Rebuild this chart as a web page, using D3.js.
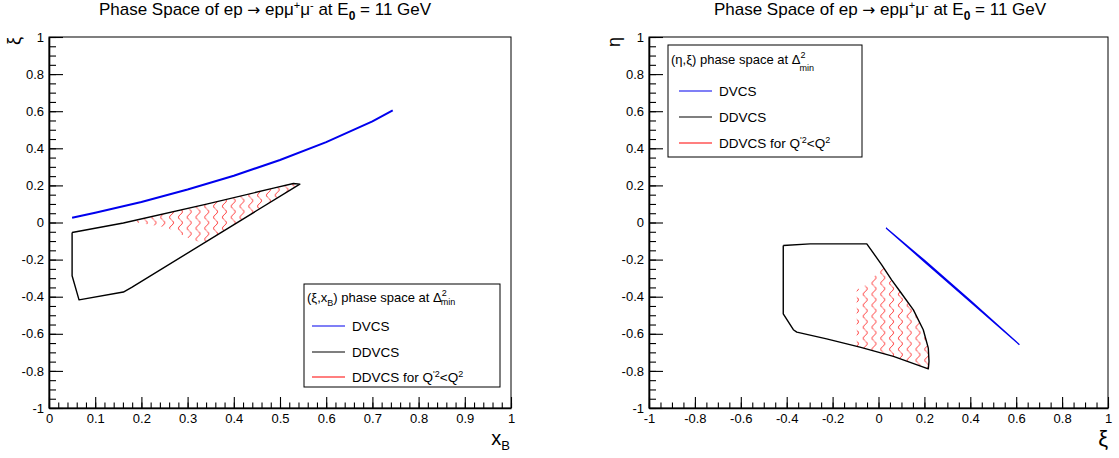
<!DOCTYPE html>
<html><head><meta charset="utf-8">
<script src="https://cdn.jsdelivr.net/npm/d3@7"></script>
<style>
html,body{margin:0;padding:0;background:#fff;}
svg{display:block;font-family:"Liberation Sans",Arial,Helvetica,sans-serif;}
</style></head>
<body><svg id="c" width="1119" height="458"></svg>
<script>
// ---------- data: left panel (xi vs x_B) ----------
const dvcsXB   = [0.05, 0.1, 0.2, 0.3, 0.4, 0.5, 0.6, 0.7, 0.744];
const dvcsXiL  = [0.026, 0.053, 0.111, 0.178, 0.252, 0.337, 0.433, 0.545, 0.604];
const ddvcsXB  = [0.050, 0.161, 0.341, 0.486, 0.529, 0.543, 0.179, 0.161, 0.065, 0.050, 0.050];
const ddvcsXiL = [-0.054, -0.003, 0.099, 0.185, 0.210, 0.207, -0.350, -0.375, -0.417, -0.287, -0.054];
const redXB    = [0.190, 0.341, 0.486, 0.529, 0.543, 0.334, 0.302, 0.255, 0.190];
const redXiL   = [0.013, 0.099, 0.185, 0.210, 0.207, -0.113, -0.084, -0.027, 0.000];
// ---------- data: right panel (eta vs xi) ----------
const dvcsXiR  = [0.033, 0.2, 0.4, 0.614, 0.4, 0.2, 0.033];
const dvcsEtaR = [-0.030, -0.211, -0.427, -0.659, -0.420, -0.204, -0.030];
const ddvcsXiR = [-0.415, -0.298, -0.051, 0.014, 0.057, 0.094, 0.152, 0.195, 0.217, 0.220, 0.217, 0.065, -0.081, -0.226, -0.356, -0.371, -0.415, -0.415];
const ddvcsEtaR= [-0.124, -0.115, -0.115, -0.228, -0.309, -0.372, -0.471, -0.578, -0.677, -0.749, -0.789, -0.722, -0.672, -0.627, -0.591, -0.578, -0.492, -0.124];
const redXiR   = [-0.095, -0.059, -0.023, 0.014, 0.057, 0.094, 0.152, 0.195, 0.217, 0.220, 0.217, 0.065, -0.081, -0.095];
const redEtaR  = [-0.363, -0.340, -0.300, -0.228, -0.309, -0.372, -0.471, -0.578, -0.677, -0.749, -0.789, -0.722, -0.672, -0.668];
// ---------- ticks ----------
const xTicksL = [0,0.1,0.2,0.3,0.4,0.5,0.6,0.7,0.8,0.9,1];
const xTickLabelsL = ["0","0.1","0.2","0.3","0.4","0.5","0.6","0.7","0.8","0.9","1"];
const xTicksR = [-1,-0.8,-0.6,-0.4,-0.2,0,0.2,0.4,0.6,0.8,1];
const xTickLabelsR = ["-1","-0.8","-0.6","-0.4","-0.2","0","0.2","0.4","0.6","0.8","1"];
const yTicks = [-1,-0.8,-0.6,-0.4,-0.2,0,0.2,0.4,0.6,0.8,1];
const yTickLabels = ["-1","-0.8","-0.6","-0.4","-0.2","0","0.2","0.4","0.6","0.8","1"];
const legendLabels = ["DVCS","DDVCS","DDVCS for Q'²<Q²"];

const svg = d3.select("#c");
const BLUE="#0000ee", RED="#ff0000";

// wavy hatch pattern
const defs = svg.append("defs");
function wavePattern(id, x0){
  const p = defs.append("pattern").attr("id",id).attr("patternUnits","userSpaceOnUse")
    .attr("width",8.8).attr("height",11).attr("x",x0).attr("y",0);
  p.append("path").attr("d","M4.4,0 C7,2.2 7,3.3 4.4,5.5 C1.8,7.7 1.8,8.8 4.4,11")
    .attr("fill","none").attr("stroke",RED).attr("stroke-width",0.9);
}
wavePattern("waveL", 132);
wavePattern("waveR", 852);

function panel(cfg){
  const g = svg.append("g");
  const x = d3.scaleLinear().domain(cfg.xdom).range([cfg.x0,cfg.x1]);
  const y = d3.scaleLinear().domain([-1,1]).range([408,37]);
  g.append("rect").attr("x",cfg.x0).attr("y",37).attr("width",cfg.x1-cfg.x0).attr("height",371)
    .attr("fill","none").attr("stroke","#000").attr("stroke-width",1);
  const xm = d3.range(Math.round((cfg.xdom[1]-cfg.xdom[0])/cfg.xminor)+1).map(i=>cfg.xdom[0]+i*cfg.xminor);
  const ym = d3.range(41).map(i=>-1+i*0.05);
  g.append("g").attr("transform",`translate(0,408)`)
    .call(d3.axisBottom(x).tickValues(xm).tickSizeInner(-5.5).tickSizeOuter(0).tickFormat(""))
    .call(s=>s.select(".domain").remove());
  g.append("g").attr("transform",`translate(${cfg.x0},0)`)
    .call(d3.axisLeft(y).tickValues(ym).tickSizeInner(-7).tickSizeOuter(0).tickFormat(""))
    .call(s=>s.select(".domain").remove());
  const ax = g.append("g").attr("transform",`translate(0,408)`)
    .call(d3.axisBottom(x).tickValues(cfg.xticks).tickSizeInner(-11).tickSizeOuter(0).tickPadding(6)
      .tickFormat((d,i)=>cfg.xlabels[i]));
  const ay = g.append("g").attr("transform",`translate(${cfg.x0},0)`)
    .call(d3.axisLeft(y).tickValues(yTicks).tickSizeInner(-14).tickSizeOuter(0).tickPadding(5)
      .tickFormat((d,i)=>yTickLabels[i]));
  [ax,ay].forEach(a=>{
    a.selectAll("text").attr("font-size",13).attr("fill","#000").attr("font-family","'Liberation Sans',Arial,sans-serif");
    a.select(".domain").attr("stroke","#000").attr("stroke-width",1.6);
  });
  g.selectAll(".tick line").attr("stroke","#000").attr("stroke-width",1.1);
  return {g,x,y};
}

const L = panel({x0:49,x1:511,xdom:[0,1],xminor:0.02,xticks:xTicksL,xlabels:xTickLabelsL});
const R = panel({x0:649,x1:1108,xdom:[-1,1],xminor:0.05,xticks:xTicksR,xlabels:xTickLabelsR});

const line = (P,xs,ys)=>d3.line().x((d,i)=>P.x(xs[i])).y((d,i)=>P.y(ys[i]))(xs);

L.g.append("path").attr("d",line(L,redXB,redXiL)+"Z").attr("fill","url(#waveL)").attr("stroke","none");
L.g.append("path").attr("d",line(L,ddvcsXB,ddvcsXiL)).attr("fill","none").attr("stroke","#000").attr("stroke-width",1.4).attr("stroke-linejoin","round");
L.g.append("path").attr("d",line(L,dvcsXB,dvcsXiL)).attr("fill","none").attr("stroke",BLUE).attr("stroke-width",2);
R.g.append("path").attr("d",line(R,redXiR,redEtaR)+"Z").attr("fill","url(#waveR)").attr("stroke","none");
R.g.append("path").attr("d",line(R,ddvcsXiR,ddvcsEtaR)).attr("fill","none").attr("stroke","#000").attr("stroke-width",1.4).attr("stroke-linejoin","round");
R.g.append("path").attr("d",line(R,dvcsXiR,dvcsEtaR)).attr("fill","none").attr("stroke",BLUE).attr("stroke-width",1.3);

function title(cx){
  const t = svg.append("text").attr("x",cx).attr("y",15).attr("text-anchor","middle").attr("font-size",17);
  t.append("tspan").text("Phase Space of ep ");
  t.append("tspan").attr("font-family","'DejaVu Sans',sans-serif").attr("font-size",15.5).text("\u2192");
  t.append("tspan").text(" ep\u03bc");
  t.append("tspan").attr("font-size",11).attr("dy",-6).text("+");
  t.append("tspan").attr("dy",6).text("\u03bc");
  t.append("tspan").attr("font-size",11).attr("dy",-6).text("-");
  t.append("tspan").attr("dy",6).text(" at E");
  t.append("tspan").attr("font-size",12).attr("font-weight","bold").attr("dy",5).text("0");
  t.append("tspan").attr("dy",-5).text(" = 11 GeV");
}
title(265); title(880);

const xbt = svg.append("text").attr("x",510).attr("y",445).attr("text-anchor","end").attr("font-size",20);
xbt.append("tspan").text("x");
xbt.append("tspan").attr("font-size",13).attr("dy",5).text("B");
svg.append("text").attr("x",1108).attr("y",446).attr("text-anchor","end").attr("font-size",22).text("\u03be");
svg.append("text").attr("transform","translate(20,37) rotate(-90)").attr("text-anchor","end").attr("font-size",18).text("\u03be");
svg.append("text").attr("transform","translate(620,37) rotate(-90)").attr("text-anchor","end").attr("font-size",18).text("\u03b7");

function legend(bx,by,bw,bh,titleParts,rowY,lx){
  svg.append("rect").attr("x",bx).attr("y",by).attr("width",bw).attr("height",bh)
    .attr("fill","#fff").attr("stroke","#000").attr("stroke-width",1);
  const t = svg.append("text").attr("x",bx+3).attr("y",rowY[0]).attr("font-size",13);
  titleParts(t);
  const cols=[BLUE,"#000",RED];
  legendLabels.forEach((lab,i)=>{
    const yy=rowY[i+1];
    svg.append("line").attr("x1",lx).attr("x2",lx+33).attr("y1",yy).attr("y2",yy).attr("stroke",cols[i]).attr("stroke-width",1.2);
    const tx = svg.append("text").attr("x",lx+40).attr("y",yy+5).attr("font-size",13.5);
    if(i<2) tx.text(lab);
    else {
      tx.append("tspan").text("DDVCS for Q");
      tx.append("tspan").attr("font-size",9).attr("dy",-5).text("'2");
      tx.append("tspan").attr("dy",5).text("<Q");
      tx.append("tspan").attr("font-size",9).attr("dy",-5).text("2");
    }
  });
}
legend(304,284,196,103,t=>{
  t.append("tspan").text("(\u03be,x");
  t.append("tspan").attr("font-size",9).attr("dy",4).text("B");
  t.append("tspan").attr("dy",-4).text(") phase space at \u0394");
  t.append("tspan").attr("font-size",9).attr("dy",-6).text("2");
  t.append("tspan").attr("font-size",9).attr("dx",-6).attr("dy",9).text("min");
},[302,326,352,377],312);
legend(668,45,194,112,t=>{
  t.append("tspan").text("(\u03b7,\u03be) phase space at \u0394");
  t.append("tspan").attr("font-size",9).attr("dy",-6).text("2");
  t.append("tspan").attr("font-size",9).attr("dx",-6).attr("dy",13).text("min");
},[64,91,117,143],679);
</script></body></html>
